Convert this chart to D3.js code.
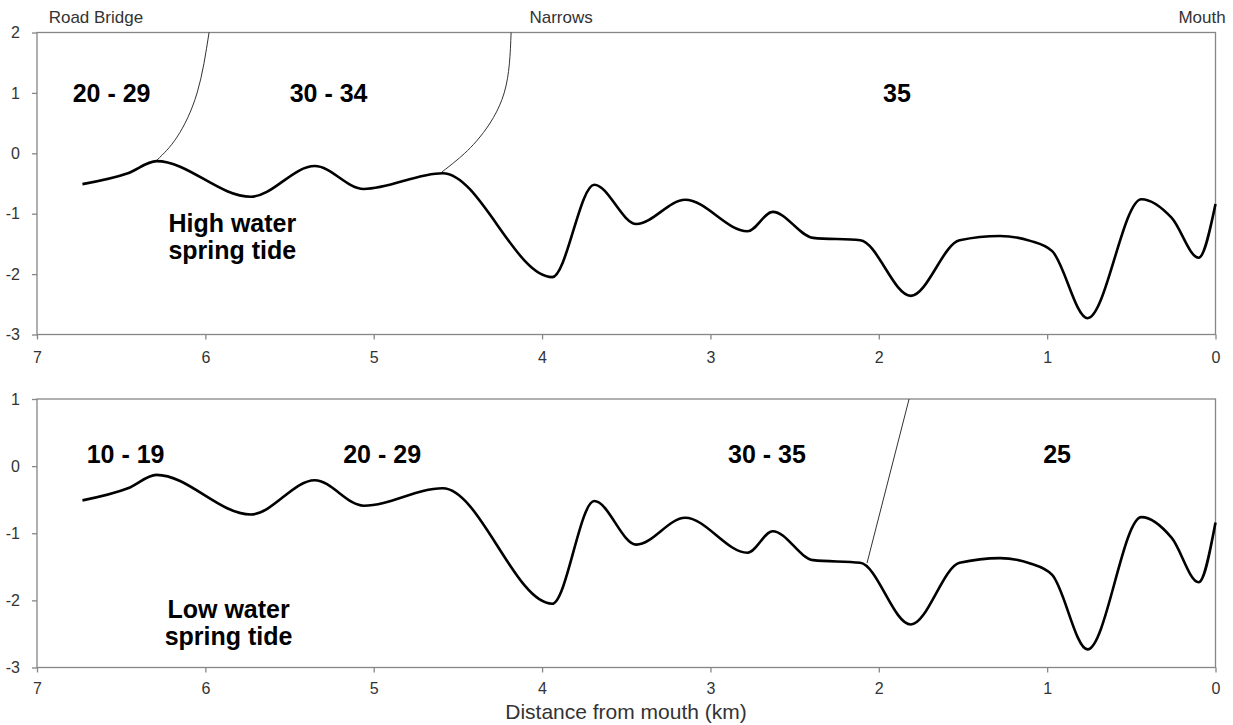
<!DOCTYPE html>
<meta charset="utf-8">
<script src="https://d3js.org/d3.v7.min.js"></script>
<style>
  body { margin: 0; background: #fff; }
  text { font-family: "Liberation Sans", Arial, sans-serif; }
</style>
<body>
<script>

// bed profile: distance from mouth (km) and bed level (m)
var km    = [6.73, 6.46, 6.29, 5.73, 5.35, 5.06, 4.59, 3.94, 3.69, 3.44, 3.15, 2.78, 2.63, 2.39, 2.11, 1.81, 1.52, 1.28, 1.10, 0.97, 0.76, 0.44, 0.26, 0.10, 0.00];
var depth = [-0.51, -0.33, -0.13, -0.72, -0.21, -0.59, -0.33, -2.05, -0.52, -1.17, -0.77, -1.29, -0.97, -1.40, -1.44, -2.36, -1.44, -1.37, -1.45, -1.62, -2.73, -0.76, -1.07, -1.73, -0.84];

// salinity boundaries, high water (two curves) and low water (one line), top end first
var hwBound1Km    = [5.978, 6.049, 6.168, 6.287];
var hwBound1Depth = [2.0, 1.0, 0.27, -0.11];
var hwBound2Km    = [4.184, 4.225, 4.369, 4.505, 4.595];
var hwBound2Depth = [2.0, 1.0, 0.27, -0.11, -0.31];
var lwBoundKm     = [1.82, 2.07];
var lwBoundDepth  = [1.0, -1.445];

// salinity zone labels
var hwZones = ["20 - 29", "30 - 34", "35"];
var hwZoneKm = [6.557, 5.268, 1.892];
var lwZones = ["10 - 19", "20 - 29", "30 - 35", "25"];
var lwZoneKm = [6.474, 4.95, 2.664, 0.941];

// place names along the top
var places = ["Road Bridge", "Narrows", "Mouth"];
var placeKm = [6.65, 3.887, 0.08];

var xTicks = [7, 6, 5, 4, 3, 2, 1, 0];
var hwTicks = [2, 1, 0, -1, -2, -3];
var lwTicks = [1, 0, -1, -2, -3];

var bed = km.map(function(d, i) { return {x: d, y: depth[i]}; });
function pts(a, b) { return a.map(function(d, i) { return {x: d, y: b[i]}; }); }

var svg = d3.select("body").append("svg")
    .attr("width", 1233)
    .attr("height", 725);

var x = d3.scaleLinear().domain([7, 0]).range([37, 1215.5]);
var yTop = d3.scaleLinear().domain([-3, 2]).range([334.5, 32.5]);
var yBot = d3.scaleLinear().domain([-3, 1]).range([667.5, 399]);

var axisColor = "#868686";
var textColor = "#333";

function panel(y, yt, xPad) {
    var g = svg.append("g");

    // frame
    g.append("rect")
        .attr("x", x(7)).attr("y", y.range()[1])
        .attr("width", x(0) - x(7)).attr("height", y.range()[0] - y.range()[1])
        .attr("fill", "none").attr("stroke", axisColor).attr("stroke-width", 1.3);

    var ya = g.append("g")
        .attr("transform", "translate(" + x(7) + ",0)")
        .call(d3.axisLeft(y).tickValues(yt).tickSize(5).tickPadding(12).tickFormat(function(d) { return String(d); }));
    var xa = g.append("g")
        .attr("transform", "translate(0," + y.range()[0] + ")")
        .call(d3.axisBottom(x).tickValues(xTicks).tickSize(5).tickPadding(xPad).tickFormat(function(d) { return String(d); }));

    [ya, xa].forEach(function(a) {
        a.select(".domain").remove();
        a.selectAll(".tick line").attr("stroke", axisColor).attr("stroke-width", 1.3);
        a.selectAll(".tick text").attr("fill", textColor)
            .style("font-family", "'Liberation Sans', Arial, sans-serif")
            .style("font-size", "16px");
    });

    // bed line
    var line = d3.line()
        .x(function(d) { return x(d.x); })
        .y(function(d) { return y(d.y); })
        .curve(d3.curveMonotoneX);
    g.append("path")
        .datum(bed)
        .attr("d", line)
        .attr("fill", "none")
        .attr("stroke", "#000")
        .attr("stroke-width", 2.6);

    return g;
}

var gTop = panel(yTop, hwTicks, 12);
var gBot = panel(yBot, lwTicks, 10);

var bLine = function(y) {
    return d3.line()
        .x(function(d) { return x(d.x); })
        .y(function(d) { return y(d.y); })
        .curve(d3.curveNatural);
};

gTop.append("path").datum(pts(hwBound1Km, hwBound1Depth)).attr("d", bLine(yTop))
    .attr("fill", "none").attr("stroke", "#333").attr("stroke-width", 1);
gTop.append("path").datum(pts(hwBound2Km, hwBound2Depth)).attr("d", bLine(yTop))
    .attr("fill", "none").attr("stroke", "#333").attr("stroke-width", 1);
gBot.append("path").datum(pts(lwBoundKm, lwBoundDepth)).attr("d", bLine(yBot))
    .attr("fill", "none").attr("stroke", "#333").attr("stroke-width", 1);

// zone labels
gTop.selectAll(".zone").data(hwZones).enter().append("text")
    .attr("x", function(d, i) { return x(hwZoneKm[i]); })
    .attr("y", yTop(0.85))
    .attr("text-anchor", "middle")
    .style("font-size", "25px").style("font-weight", "bold")
    .text(function(d) { return d; });

gBot.selectAll(".zone").data(lwZones).enter().append("text")
    .attr("x", function(d, i) { return x(lwZoneKm[i]); })
    .attr("y", yBot(0.045))
    .attr("text-anchor", "middle")
    .style("font-size", "25px").style("font-weight", "bold")
    .text(function(d) { return d; });

// tide captions
function caption(g, lines, cx, y0) {
    g.append("text")
        .attr("x", cx).attr("y", y0)
        .attr("text-anchor", "middle")
        .style("font-size", "25px").style("font-weight", "bold")
        .selectAll("tspan").data(lines).enter().append("tspan")
        .attr("x", cx)
        .attr("dy", function(d, i) { return i ? 27 : 0; })
        .text(function(d) { return d; });
}
caption(gTop, ["High water", "spring tide"], x(5.84), yTop(-1.31));
caption(gBot, ["Low water", "spring tide"], x(5.862), yBot(-2.265));

// place names
svg.selectAll(".place").data(places).enter().append("text")
    .attr("x", function(d, i) { return x(placeKm[i]); })
    .attr("y", 23)
    .attr("text-anchor", "middle")
    .attr("fill", textColor)
    .style("font-size", "17px")
    .text(function(d) { return d; });

// x axis title
svg.append("text")
    .attr("x", 626)
    .attr("y", 719)
    .attr("text-anchor", "middle")
    .attr("fill", textColor)
    .style("font-size", "21px")
    .text("Distance from mouth (km)");

</script>
</body>
